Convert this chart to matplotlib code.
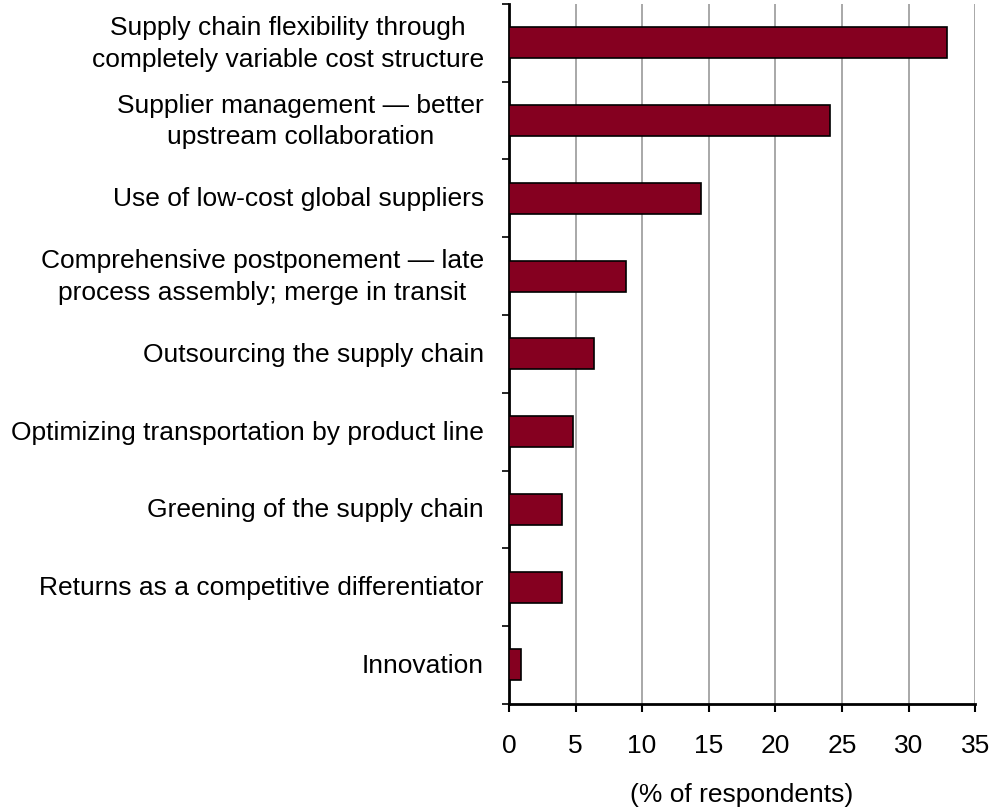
import numpy as np
import matplotlib.pyplot as plt

plt.rcParams['font.family'] = ['Liberation Sans', 'DejaVu Sans']

# survey answers, top to bottom
labels = [
    "Supply chain flexibility through\ncompletely variable cost structure",
    "Supplier management \u2014 better\nupstream collaboration",
    "Use of low-cost global suppliers",
    "Comprehensive postponement \u2014 late\nprocess assembly; merge in transit",
    "Outsourcing the supply chain",
    "Optimizing transportation by product line",
    "Greening of the supply chain",
    "Returns as a competitive differentiator",
    "Innovation",
]
pct = [32.9, 24.1, 14.4, 8.8, 6.4, 4.8, 4.0, 4.0, 0.9]
xticks = [0, 5, 10, 15, 20, 25, 30, 35]

fig = plt.figure(figsize=(9.92, 8.12), dpi=100)
ax = fig.add_axes([0.513, 0.132, 0.470, 0.862])

y = np.arange(len(labels))
ax.barh(y, pct, height=0.4, color='#850020', edgecolor='black', linewidth=1.2, zorder=3)

ax.set_xlim(0, 35)
ax.set_ylim(len(labels) - 0.5, -0.5)
ax.set_xticks(xticks)
ax.set_xticklabels([str(t) for t in xticks], fontsize=19)
ax.tick_params(axis='x', length=6, width=1.5, direction='out', pad=15)
ax.xaxis.grid(True, color='#999999', linewidth=1.2, zorder=0)

# category ticks sit on the boundaries between bars
ax.set_yticks(np.arange(len(labels) + 1) - 0.5)
ax.set_yticklabels([])
ax.tick_params(axis='y', length=5, width=1.2, direction='out')
for yi, lab in zip(y, labels):
    ax.text(-0.054, yi, lab, transform=ax.get_yaxis_transform(), ha='right', va='center',
            multialignment='center', fontsize=19, linespacing=1.4)

for s in ['top', 'right']:
    ax.spines[s].set_visible(False)
ax.spines['left'].set_linewidth(2)
ax.spines['bottom'].set_linewidth(2)

ax.set_xlabel("(% of respondents)", fontsize=19, labelpad=18)

fig.savefig("out.png", dpi=100)
